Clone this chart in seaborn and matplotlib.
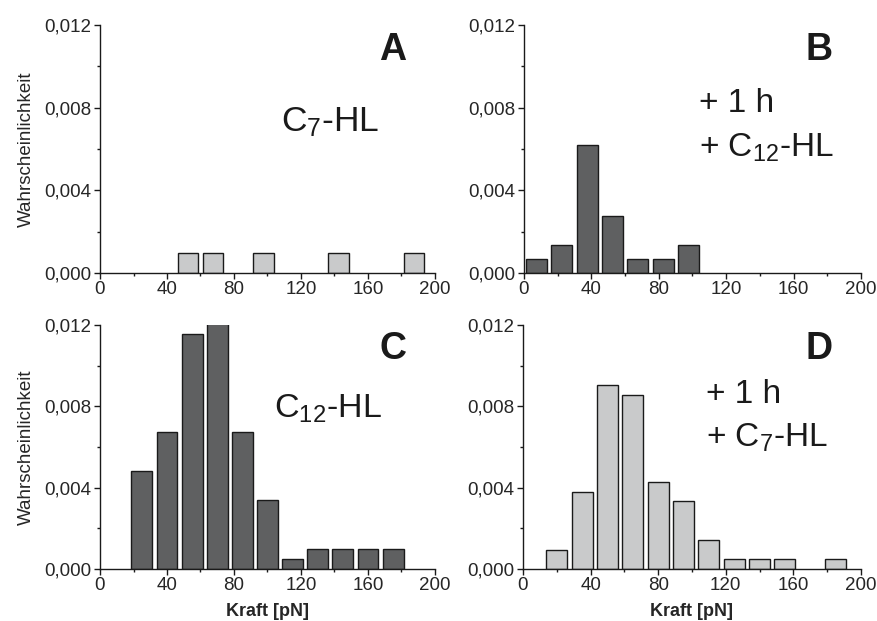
import numpy as np
import pandas as pd
import matplotlib
matplotlib.use("Agg")
import matplotlib.pyplot as plt
import seaborn as sns
from matplotlib.ticker import MultipleLocator, FuncFormatter

# bin centres (pN) and probabilities
a_force = [52.5, 67.5, 97.5, 142.5, 187.5]
a_prob = [0.00095, 0.00095, 0.00095, 0.00095, 0.00095]

b_force = [7.5, 22.5, 37.5, 52.5, 67.5, 82.5, 97.5]
b_prob = [0.00068, 0.00137, 0.0062, 0.00275, 0.00068, 0.00068, 0.00137]

c_force = [25, 40, 55, 70, 85, 100, 115, 130, 145, 160, 175]
c_prob = [0.00481, 0.00673, 0.01156, 0.0121, 0.00673, 0.00337, 0.00048,
          0.00096, 0.00096, 0.00096, 0.00096]

d_force = [20, 35, 50, 65, 80, 95, 110, 125, 140, 155, 185]
d_prob = [0.00095, 0.0038, 0.00906, 0.00858, 0.00427, 0.00334, 0.00141,
          0.00047, 0.00047, 0.00047, 0.00047]

DARK = '#5f6061'
LIGHT = '#c9cacb'

sns.set_style("ticks")
plt.rcParams['font.family'] = ['Liberation Sans', 'DejaVu Sans']
plt.rcParams['mathtext.fontset'] = 'custom'
plt.rcParams['mathtext.rm'] = 'Liberation Sans'
plt.rcParams['mathtext.it'] = 'Liberation Sans'
plt.rcParams['text.color'] = '#1a1a1a'

fig = plt.figure(figsize=(8.78, 6.21), dpi=100)
W, H = 878, 621


def add_axes(left, top, right, bottom):
    return fig.add_axes([left / W, 1 - bottom / H, (right - left) / W, (bottom - top) / H])


panels = [
    (add_axes(100, 25, 435, 273), a_force, a_prob, LIGHT, 'A', False, True),
    (add_axes(524, 25, 861, 273), b_force, b_prob, DARK, 'B', False, False),
    (add_axes(100, 325, 435, 569), c_force, c_prob, DARK, 'C', True, True),
    (add_axes(523, 325, 861, 569), d_force, d_prob, LIGHT, 'D', True, False),
]

comma = FuncFormatter(lambda v, p: f"{v:.3f}".replace('.', ','))

for ax, force, prob, col, letter, xlab, ylab in panels:
    df = pd.DataFrame({'Kraft': force, 'p': prob})
    sns.barplot(data=df, x='Kraft', y='p', native_scale=True, width=0.83,
                color=col, saturation=1, edgecolor='#1a1a1a', linewidth=1.0,
                errorbar=None, ax=ax)
    ax.set_xlim(0, 200)
    ax.set_ylim(0, 0.012)
    ax.xaxis.set_major_locator(MultipleLocator(40))
    ax.xaxis.set_minor_locator(MultipleLocator(20))
    ax.yaxis.set_major_locator(MultipleLocator(0.004))
    ax.yaxis.set_minor_locator(MultipleLocator(0.002))
    ax.yaxis.set_major_formatter(comma)
    ax.tick_params(which='major', length=4, width=1.0, labelsize=13.5, color='#1a1a1a', pad=2)
    ax.tick_params(which='minor', length=2.5, width=1.0, color='#1a1a1a')
    for s in ['left', 'bottom']:
        ax.spines[s].set_linewidth(1.0)
        ax.spines[s].set_color('#1a1a1a')
    sns.despine(ax=ax)
    ax.set_xlabel('Kraft [pN]' if xlab else '', fontsize=13, fontweight='bold', labelpad=6)
    ax.set_ylabel('Wahrscheinlichkeit' if ylab else '', fontsize=13.5, labelpad=7)
    ax.text(0.875, 0.90, letter, transform=ax.transAxes, fontsize=27,
            fontweight='bold', ha='center', va='center')

panels[0][0].text(0.54, 0.57, r'C$_{7}$-HL', transform=panels[0][0].transAxes,
                  fontsize=25.5, ha='left', va='baseline')
panels[1][0].text(0.52, 0.648, '+ 1 h', transform=panels[1][0].transAxes,
                  fontsize=24, ha='left', va='baseline')
panels[1][0].text(0.52, 0.47, r'+ C$_{12}$-HL', transform=panels[1][0].transAxes,
                  fontsize=24, ha='left', va='baseline')
panels[2][0].text(0.52, 0.62, r'C$_{12}$-HL', transform=panels[2][0].transAxes,
                  fontsize=24.5, ha='left', va='baseline')
panels[3][0].text(0.54, 0.68, '+ 1 h', transform=panels[3][0].transAxes,
                  fontsize=24, ha='left', va='baseline')
panels[3][0].text(0.54, 0.503, r'+ C$_{7}$-HL', transform=panels[3][0].transAxes,
                  fontsize=24, ha='left', va='baseline')

fig.savefig('out.png', dpi=100)
